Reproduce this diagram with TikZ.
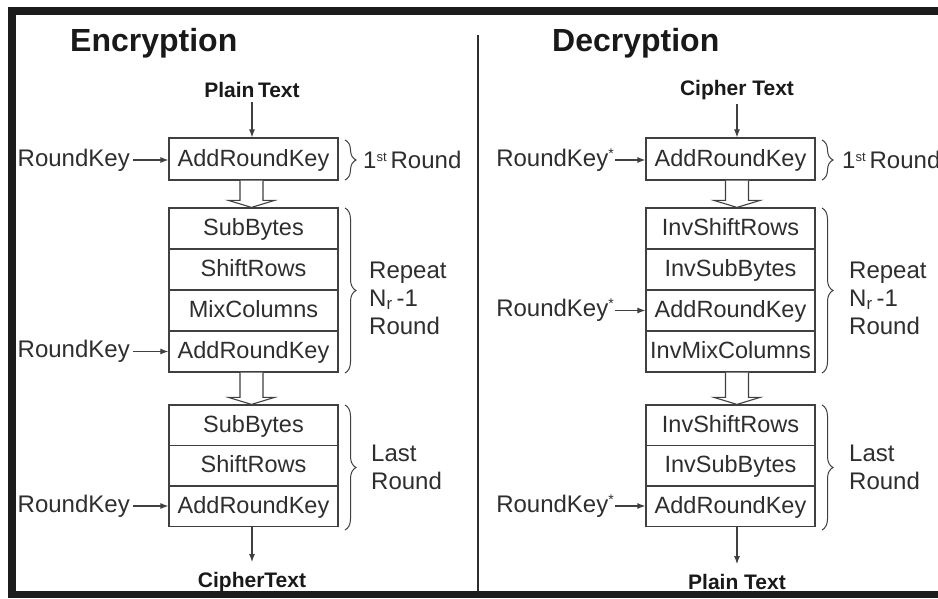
\documentclass[tikz,border=0pt]{standalone}
\usepackage{fontspec}
\setmainfont{Liberation Sans}
\usetikzlibrary{arrows.meta,decorations.pathreplacing,calc}
\definecolor{ink}{HTML}{2E2E2E}
\definecolor{edge}{HTML}{404040}
\definecolor{frame}{HTML}{1C1C1C}

% wide hollow arrow between two stacked blocks: #1 upper node, #2 lower node, #3 x offset
\newcommand\hollowdrop[3]{%
  \draw[hollow] let \p1=(#1.south), \p2=(#2.north) in
    (\x1+#3-11.5pt,\y1) -- (\x1+#3-11.5pt,\y2+7pt) -- (\x1+#3-23pt,\y2+7pt)
    -- (\x1+#3,\y2) -- (\x1+#3+23pt,\y2+7pt) -- (\x1+#3+11.5pt,\y2+7pt)
    -- (\x1+#3+11.5pt,\y1);}
% small raised ordinal / key marks
\newcommand\ordmark[1]{\raisebox{7pt}{\fontsize{13}{13}\selectfont #1}}
\newcommand\keymark{\raisebox{8pt}{\fontsize{14}{14}\selectfont *}}

\begin{document}
\begin{tikzpicture}[x=1pt,y=-1pt,
  lbl/.style={font=\fontsize{24}{28}\selectfont, text=ink, inner sep=0pt},
  hdr/.style={font=\fontsize{32}{36}\selectfont\bfseries, text=black!90, inner sep=0pt},
  io/.style={font=\fontsize{21}{24}\selectfont\bfseries, text=black!90, inner sep=0pt},
  stage/.style={draw=edge, line width=1.2pt, minimum width=169pt, minimum height=41pt,
                inner sep=0pt, fill=white, text=ink, font=\fontsize{23.5}{26}\selectfont,
                text height=16.5pt, text depth=2.5pt},
  feed/.style={-{Latex[length=8pt,width=6pt]}, draw=edge, line width=1.1pt},
  grp/.style={decorate, decoration={brace, amplitude=11pt}, draw=edge, line width=1pt},
  hollow/.style={draw=edge, line width=1.1pt, fill=white}
]
\useasboundingbox (0,0) rectangle (938,598);
\clip (0,0) rectangle (938,598);
\fill[white] (0,0) rectangle (938,598);

% outer frame and column divider
\draw[frame, line width=7.5pt] (11.75,11) rectangle (1000,594.5);
\draw[ink, line width=1.2pt] (478,35) -- (478,591);

% ---------------- Encryption ----------------
\node[hdr, anchor=west] (enctitle) at (70,43) {Encryption};
\node[io] (ein) at (252,90) {Plain\,Text};

\node[stage, minimum height=42pt] (e1) at (253.5,159) {AddRoundKey};

\node[stage] (e2) at (253.5,228.5) {SubBytes};
\node[stage] (e3) at (253.5,269.5) {ShiftRows};
\node[stage] (e4) at (253.5,310.5) {MixColumns};
\node[stage] (e5) at (253.5,351.5) {AddRoundKey};

\node[stage, minimum height=40.5pt] (e6) at (253.5,425.25) {SubBytes};
\node[stage, minimum height=40.5pt] (e7) at (253.5,465.75) {ShiftRows};
\node[stage, minimum height=40.5pt] (e8) at (253.5,506.25) {AddRoundKey};

\node[io] (eout) at (252,582) {CipherText};

\node[lbl, anchor=east] (ek1) at (130,160) {RoundKey};
\node[lbl, anchor=east] (ek2) at (130,351.5) {RoundKey};
\node[lbl, anchor=east] (ek3) at (130,506) {RoundKey};

\draw[feed] ([yshift=-4pt]ein.south) -- (ein.south |- e1.north);
\draw[feed, shorten <=3pt] (ek1.east) -- (ek1.east -| e1.west);
\draw[feed, shorten <=3pt] (ek2.east) -- (ek2.east -| e5.west);
\draw[feed, shorten <=3pt] (ek3.east) -- (ek3.east -| e8.west);
\hollowdrop{e1}{e2}{-2pt}
\hollowdrop{e5}{e6}{-2pt}
\draw[feed] (e8.south -| eout.north) -- ([yshift=10pt]eout.north);

\draw[grp] (345,140) -- (345,180);
\node[lbl, anchor=west] (er1) at (363,160) {1\ordmark{st}\,Round};
\draw[grp] (345,208) -- (345,373);
\node[lbl, anchor=west, align=left] (er2) at (369,298) {Repeat\\N\textsubscript{r}\,-1\\Round};
\draw[grp] (345,405) -- (345,530);
\node[lbl, anchor=west, align=left] (er3) at (371,467) {Last\\Round};

% ---------------- Decryption ----------------
\node[hdr, anchor=west] (dectitle) at (552,43) {Decryption};
\node[io] (din) at (737,90) {Cipher Text};

\node[stage, minimum height=42pt] (d1) at (730.5,159) {AddRoundKey};

\node[stage] (d2) at (730.5,228.5) {InvShiftRows};
\node[stage] (d3) at (730.5,269.5) {InvSubBytes};
\node[stage] (d4) at (730.5,310.5) {AddRoundKey};
\node[stage] (d5) at (730.5,351.5) {InvMixColumns};

\node[stage, minimum height=40.5pt] (d6) at (730.5,425.25) {InvShiftRows};
\node[stage, minimum height=40.5pt] (d7) at (730.5,465.75) {InvSubBytes};
\node[stage, minimum height=40.5pt] (d8) at (730.5,506.25) {AddRoundKey};

\node[io] (dout) at (737,582) {Plain Text};

\node[lbl, anchor=east] (dk1) at (614,160) {RoundKey\keymark};
\node[lbl, anchor=east] (dk2) at (614,310.5) {RoundKey\keymark};
\node[lbl, anchor=east] (dk3) at (614,506) {RoundKey\keymark};

\draw[feed, shorten <=1pt] (dk1.east) -- (dk1.east -| d1.west);
\draw[feed, shorten <=1pt] (dk2.east) -- (dk2.east -| d4.west);
\draw[feed, shorten <=1pt] (dk3.east) -- (dk3.east -| d8.west);
\draw[feed] ([yshift=-4pt]din.south) -- (din.south |- d1.north);
\hollowdrop{d1}{d2}{6.5pt}
\hollowdrop{d5}{d6}{6.5pt}
\draw[feed] (d8.south -| dout.north) -- ([yshift=10pt]dout.north);

\draw[grp] (822,140) -- (822,180);
\node[lbl, anchor=west] (dr1) at (842,160) {1\ordmark{st}\,Round};
\draw[grp] (822,208) -- (822,373);
\node[lbl, anchor=west, align=left] (dr2) at (849,298) {Repeat\\N\textsubscript{r}\,-1\\Round};
\draw[grp] (822,405) -- (822,530);
\node[lbl, anchor=west, align=left] (dr3) at (849,467) {Last\\Round};
\end{tikzpicture}
\end{document}
